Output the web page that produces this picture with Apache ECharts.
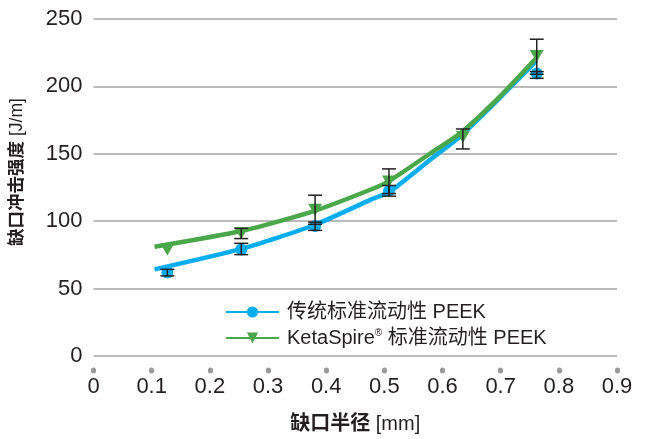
<!DOCTYPE html>
<html>
<head>
<meta charset="utf-8">
<script src="https://cdn.jsdelivr.net/npm/echarts@6/dist/echarts.min.js"></script>
<style>
  html, body { margin: 0; padding: 0; background: #fff; }
  #impact { width: 646px; height: 439px; }
</style>
</head>
<body>
<div id="impact"></div>
<script>
var font = "'Liberation Sans', 'Noto Sans CJK SC', sans-serif";
var textColor = '#231f20';
var blue = '#00aeef';
var green = '#4aa84a';

// notch radius of the test bars (mm)
var radius = [0.127, 0.254, 0.381, 0.508, 0.635, 0.762];

// 传统标准流动性 PEEK - measured points + error range
var peekMean = [62, 79, 96.5, 122.5, null, 209.5];
var peekLow = [59.4, 75.2, 93.2, 118.6, null, 206];
var peekHigh = [64.3, 83.6, 99.3, 126.5, null, 211];

// KetaSpire 标准流动性 PEEK
var ketaMean = [79, 91, 108.5, 129.5, 162.5, 222.5];
var ketaLow = [null, 87.1, 97.7, 120.5, 153.6, 209];
var ketaHigh = [null, 94.7, 119.3, 138.8, 168.4, 235];

// trend curves: [radius, J/m]
var peekTrend = [[0.105, 64.3], [0.254, 79.5], [0.379, 97], [0.477, 116], [0.508, 121.5], [0.58, 146], [0.631, 163], [0.679, 183], [0.762, 219]];
var ketaTrend = [[0.105, 81], [0.254, 92.7], [0.379, 107.5], [0.477, 123.5], [0.508, 129.7], [0.58, 150.6], [0.631, 165.5], [0.695, 191], [0.762, 221.5]];

var nameArr = ['传统标准流动性 PEEK', 'KetaSpire® 标准流动性 PEEK'];

function points(mean) {
  var out = [];
  for (var i = 0; i < radius.length; i++) {
    if (mean[i] != null) out.push([radius[i], mean[i]]);
  }
  return out;
}
function ranges(low, high) {
  var out = [];
  for (var i = 0; i < radius.length; i++) {
    if (low[i] != null) out.push([radius[i], low[i], high[i]]);
  }
  return out;
}

function renderErrorBar(params, api) {
  var lo = api.coord([api.value(0), api.value(1)]);
  var hi = api.coord([api.value(0), api.value(2)]);
  var half = 7;
  var style = { stroke: textColor, lineWidth: 1.5 };
  return {
    type: 'group',
    children: [
      { type: 'line', shape: { x1: lo[0], y1: lo[1], x2: hi[0], y2: hi[1] }, style: style },
      { type: 'line', shape: { x1: lo[0] - half, y1: lo[1], x2: lo[0] + half, y2: lo[1] }, style: style },
      { type: 'line', shape: { x1: hi[0] - half, y1: hi[1], x2: hi[0] + half, y2: hi[1] }, style: style }
    ]
  };
}

var myChart = echarts.init(document.getElementById('impact'));

var option = {
  backgroundColor: '#fff',
  animation: false,
  textStyle: { fontFamily: font, color: textColor },
  grid: { left: 92, right: 29, top: 19, bottom: 82 },
  legend: {
    orient: 'vertical',
    left: 220,
    top: 297,
    itemWidth: 53,
    itemHeight: 14,
    itemGap: 6,
    data: nameArr,
    formatter: function (name) {
      return name.replace('®', '{sup|®}');
    },
    textStyle: {
      fontFamily: font,
      color: textColor,
      fontSize: 20,
      padding: [0, 0, 0, 3],
      rich: {
        sup: { fontSize: 10, fontFamily: font, color: textColor, verticalAlign: 'top', padding: [0, 0, 9, 0] }
      }
    }
  },
  xAxis: {
    type: 'value',
    min: 0,
    max: 0.9,
    interval: 0.1,
    offset: 14,
    name: '{b|缺口半径} [mm]',
    nameLocation: 'middle',
    nameGap: 44,
    nameTextStyle: {
      fontFamily: font,
      fontSize: 20,
      color: textColor,
      rich: { b: { fontFamily: font, fontSize: 20, fontWeight: 'bold', color: textColor } }
    },
    axisLine: { show: false, onZero: false },
    axisTick: { show: true, length: 1, lineStyle: { color: '#9a9a9a', width: 5, cap: 'round' } },
    splitLine: { show: false },
    axisLabel: {
      margin: 6,
      fontFamily: font,
      fontSize: 22,
      color: textColor
    }
  },
  yAxis: {
    type: 'value',
    min: 0,
    max: 250,
    interval: 50,
    name: '{b|缺口冲击强度} [J/m]',
    nameLocation: 'middle',
    nameGap: 68,
    nameTextStyle: {
      fontFamily: font,
      fontSize: 17.5,
      color: textColor,
      rich: { b: { fontFamily: font, fontSize: 17.5, fontWeight: 'bold', color: textColor, padding: [0, 0, 0, 31] } }
    },
    axisLine: { show: false },
    axisTick: { show: false },
    splitLine: { show: true, lineStyle: { color: '#a3a3a3', width: 1.5 } },
    axisLabel: {
      margin: 11,
      fontFamily: font,
      fontSize: 22,
      color: textColor
    }
  },
  series: [
    {
      name: nameArr[0],
      type: 'line',
      data: peekTrend,
      smooth: 0.2,
      symbol: 'circle',
      symbolSize: 12,
      showSymbol: false,
      itemStyle: { color: blue },
      lineStyle: { color: blue, width: 4.5 },
      z: 2
    },
    {
      name: nameArr[1],
      type: 'line',
      data: ketaTrend,
      smooth: 0.2,
      symbol: 'triangle',
      symbolRotate: 180,
      symbolSize: 12,
      showSymbol: false,
      itemStyle: { color: green },
      lineStyle: { color: green, width: 4.5 },
      z: 3
    },
    {
      name: 'peek-points',
      type: 'scatter',
      data: points(peekMean),
      symbol: 'circle',
      symbolSize: 12,
      itemStyle: { color: blue, opacity: 1 },
      z: 4
    },
    {
      name: 'keta-points',
      type: 'scatter',
      data: points(ketaMean),
      symbol: 'triangle',
      symbolRotate: 180,
      symbolSize: [14, 12],
      itemStyle: { color: green, opacity: 1 },
      z: 5
    },
    {
      name: 'peek-err',
      type: 'custom',
      renderItem: renderErrorBar,
      data: ranges(peekLow, peekHigh),
      z: 6
    },
    {
      name: 'keta-err',
      type: 'custom',
      renderItem: renderErrorBar,
      data: ranges(ketaLow, ketaHigh),
      z: 6
    }
  ]
};

if (option && typeof option === 'object') {
  myChart.setOption(option, true);
}
</script>
</body>
</html>
